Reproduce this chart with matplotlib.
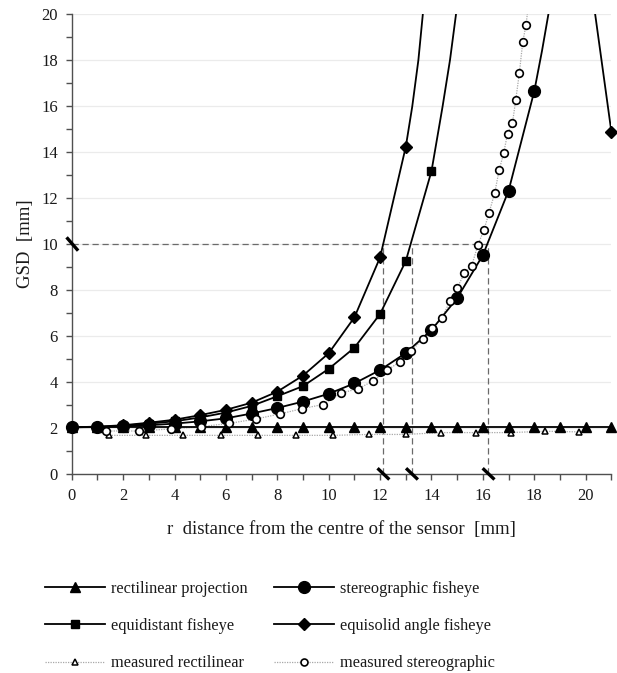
import matplotlib
matplotlib.use("Agg")
import matplotlib.pyplot as plt
from matplotlib.lines import Line2D

plt.rcParams['font.family'] = ['Liberation Serif', 'DejaVu Serif']

# ---------------- data ----------------
# rectilinear projection (theoretical)
rect_r = list(range(0, 22))
rect_v = [2.03] * 22

# stereographic fisheye (theoretical)
stereo_r = list(range(0, 19))
stereo_v = [2.03, 2.04, 2.07, 2.12, 2.19, 2.29, 2.42, 2.63, 2.87, 3.15,
            3.49, 3.94, 4.52, 5.26, 6.26, 7.65, 9.52, 12.32, 16.65]
stereo_line_r = [18.3, 18.55, 18.65]
stereo_line_v = [18.4, 20.0, 20.7]

# equidistant fisheye (theoretical)
equid_r = list(range(0, 15))
equid_v = [2.03, 2.05, 2.10, 2.19, 2.29, 2.46, 2.67, 2.96, 3.38, 3.82,
           4.57, 5.49, 6.96, 9.26, 13.17]
equid_line_r = [14.43, 14.72, 14.95, 15.05]
equid_line_v = [15.97, 18.0, 19.96, 21.0]

# equisolid angle fisheye (theoretical)
esol_r = list(range(0, 14))
esol_v = [2.03, 2.06, 2.12, 2.23, 2.36, 2.56, 2.79, 3.10, 3.58, 4.28,
          5.25, 6.81, 9.42, 14.23]
esol_line_r = [13.25, 13.49, 13.66, 13.75]
esol_line_v = [15.97, 18.0, 19.96, 21.1]
esol2_r = [21]
esol2_v = [14.87]
esol2_line_r = [20.33, 21]
esol2_line_v = [20.3, 14.87]

# measured rectilinear
mrect_r = [1.46, 2.88, 4.34, 5.80, 7.26, 8.71, 10.18, 11.58, 13.00, 14.37,
           15.72, 17.08, 18.42, 19.75]
mrect_v = [1.68, 1.68, 1.68, 1.68, 1.68, 1.68, 1.68, 1.72, 1.72, 1.80,
           1.80, 1.80, 1.86, 1.83]

# measured stereographic
mster_r = [1.34, 2.63, 3.86, 5.03, 6.13, 7.16, 8.10, 8.96, 9.77, 10.48,
           11.13, 11.74, 12.27, 12.77, 13.22, 13.65, 14.03, 14.40, 14.72, 15.00,
           15.28, 15.56, 15.81, 16.04, 16.24, 16.46, 16.63, 16.81, 16.96, 17.15,
           17.28, 17.42, 17.55, 17.68]
mster_v = [1.87, 1.87, 1.96, 2.06, 2.20, 2.39, 2.61, 2.84, 3.02, 3.52,
           3.70, 4.05, 4.51, 4.88, 5.35, 5.87, 6.33, 6.77, 7.52, 8.10,
           8.72, 9.04, 9.97, 10.61, 11.36, 12.22, 13.20, 13.96, 14.80, 15.26,
           16.28, 17.45, 18.78, 19.54]
mster_line_r = [17.76]
mster_line_v = [20.3]

# GSD threshold and the r where each curve reaches it
gsd_limit = 10
gsd_limit_r = [12.12, 13.23, 16.21]

labels = ["rectilinear projection", "stereographic fisheye",
          "equidistant fisheye", "equisolid angle fisheye",
          "measured rectilinear", "measured stereographic"]

x_ticks = list(range(0, 21, 2))
y_ticks = list(range(0, 21, 2))

# ---------------- figure ----------------
W, H = 617, 673
fig = plt.figure(figsize=(W / 100, H / 100), dpi=100)
ax = fig.add_axes([71.7 / W, 1 - 474 / H, (611.4 - 71.7) / W, (474 - 14) / H])
ax.set_xlim(0, 21)
ax.set_ylim(0, 20)

spine_c = '#505050'
txt_c = '#1a1a1a'
for s in ['top', 'right']:
    ax.spines[s].set_visible(False)
for s in ['left', 'bottom']:
    ax.spines[s].set_color(spine_c)
    ax.spines[s].set_linewidth(1.0)

ax.set_yticks(y_ticks)
ax.set_yticks(range(1, 20, 2), minor=True)
ax.set_xticks(range(0, 22), minor=True)
ax.set_xticks(x_ticks)
ax.tick_params(axis='both', which='both', direction='out', length=4,
               width=1.0, color=spine_c, labelsize=12, labelcolor=txt_c)
ax.tick_params(axis='y', pad=6)
ax.tick_params(axis='x', pad=6)
ax.grid(axis='y', which='major', color='#ebebeb', lw=0.9)
ax.set_axisbelow(True)

ax.set_ylabel("GSD  [mm]", fontsize=13.5, color=txt_c, labelpad=5)
ax.set_xlabel("r  distance from the centre of the sensor  [mm]",
              fontsize=13.5, color=txt_c, labelpad=12)

# dashed guide lines
dash_c = '#6a6a6a'
ax.plot([0, max(gsd_limit_r)], [gsd_limit, gsd_limit], ls=(0, (5, 3)),
        color=dash_c, lw=0.9, zorder=1)
for rv in gsd_limit_r:
    ax.plot([rv, rv], [0, gsd_limit], ls=(0, (5, 3)), color=dash_c, lw=0.9,
            zorder=1)


def merged(r1, v1, r2, v2):
    pts = sorted(zip(list(r1) + list(r2), list(v1) + list(v2)))
    return [p[0] for p in pts], [p[1] for p in pts]


lw = 1.3
# theoretical lines
for (rr, vv, lr, lv) in [(rect_r, rect_v, [], []),
                         (stereo_r, stereo_v, stereo_line_r, stereo_line_v),
                         (equid_r, equid_v, equid_line_r, equid_line_v),
                         (esol_r, esol_v, esol_line_r, esol_line_v),
                         (esol2_r, esol2_v, esol2_line_r, esol2_line_v)]:
    xr, yv = merged(rr, vv, lr, lv)
    ax.plot(xr, yv, color='black', lw=lw, zorder=3)

# measured lines
meas_c = '#a8a8a8'
ax.plot(mrect_r, mrect_v, color=meas_c, lw=0.9, ls=(0, (1, 1)), zorder=2)
xr, yv = merged(mster_r, mster_v, mster_line_r, mster_line_v)
ax.plot(xr, yv, color=meas_c, lw=0.9, ls=(0, (1, 1)), zorder=2)

# markers
mk = dict(ls='none', clip_on=False)
ax.plot(rect_r, rect_v, marker='^', ms=6.5, color='black', zorder=5, **mk)
ax.plot(equid_r, equid_v, marker='s', ms=6, color='black', zorder=5, **mk)
ax.plot(esol_r, esol_v, marker='D', ms=6, color='black', zorder=5, **mk)
ax.plot(esol2_r, esol2_v, marker='D', ms=6, color='black', zorder=5, **mk)
ax.plot(stereo_r, stereo_v, marker='o', ms=8.5, color='black', zorder=6, **mk)
ax.plot(mrect_r, mrect_v, marker='^', ms=4.5, mfc='white', mec='black',
        mew=1.1, zorder=4, **mk)
ax.plot(mster_r, mster_v, marker='o', ms=5.5, mfc='white', mec='black',
        mew=1.2, zorder=7, **mk)

# axis break marks
ax.plot([-0.2, 0.25], [gsd_limit + 0.29, gsd_limit - 0.29], color='black',
        lw=2.4, clip_on=False, zorder=8, solid_capstyle='butt')
for rv in gsd_limit_r:
    ax.plot([rv - 0.22, rv + 0.24], [0.25, -0.24], color='black', lw=2.4,
            clip_on=False, zorder=8, solid_capstyle='butt')

# legend
handles = [
    Line2D([], [], color='black', lw=lw, marker='^', ms=6.5),
    Line2D([], [], color='black', lw=lw, marker='o', ms=8.5),
    Line2D([], [], color='black', lw=lw, marker='s', ms=6),
    Line2D([], [], color='black', lw=lw, marker='D', ms=6),
    Line2D([], [], color=meas_c, lw=0.9, ls=(0, (1, 1)), marker='^', ms=4.5,
           mfc='white', mec='black', mew=1.1),
    Line2D([], [], color=meas_c, lw=0.9, ls=(0, (1, 1)), marker='o', ms=5,
           mfc='white', mec='black', mew=1.2),
]
# matplotlib fills legend columns first
order = [0, 2, 4, 1, 3, 5]
leg = fig.legend([handles[i] for i in order], [labels[i] for i in order],
                 ncol=2, loc='upper left',
                 bbox_to_anchor=(45 / W, 1 - 581 / H), frameon=False,
                 fontsize=11.8, handlelength=3.65, handletextpad=0.35,
                 columnspacing=1.65, labelspacing=1.29, borderpad=0,
                 borderaxespad=0)
for t in leg.get_texts():
    t.set_color(txt_c)

fig.savefig("out.png", dpi=100)
